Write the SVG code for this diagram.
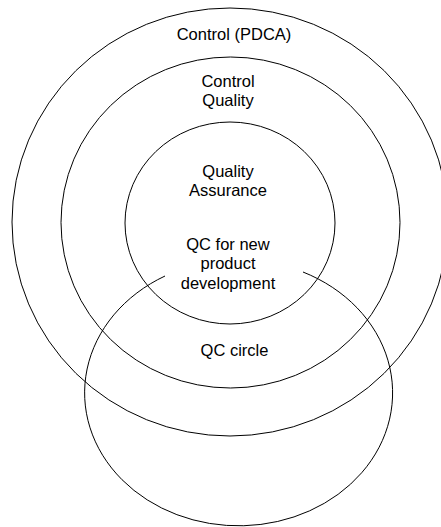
<svg xmlns="http://www.w3.org/2000/svg" width="441" height="527" viewBox="0 0 441 527">
  <style>
    .ring { fill: none; stroke: #000; stroke-width: 1; }
    .label { font-family: "Liberation Sans", Arial, sans-serif; font-size: 16.5px; fill: #000; text-anchor: middle; }
  </style>
  <rect width="441" height="527" fill="#fff"/>
  <g id="control-pdca">
    <ellipse class="ring" cx="230" cy="222" rx="218" ry="214"/>
    <text class="label" x="234" y="39.5">Control (PDCA)</text>
  </g>
  <g id="control-quality">
    <ellipse class="ring" cx="230.5" cy="222.5" rx="169.5" ry="165.5"/>
    <text class="label" x="228" y="87">Control</text>
    <text class="label" x="228" y="106">Quality</text>
  </g>
  <g id="quality-assurance">
    <ellipse class="ring" cx="230" cy="223" rx="105" ry="101"/>
    <text class="label" x="228" y="176.5">Quality</text>
    <text class="label" x="228" y="196">Assurance</text>
  </g>
  <g id="qc-new-product">
    <text class="label" x="228" y="249.5">QC for new</text>
    <text class="label" x="228" y="269">product</text>
    <text class="label" x="228" y="288.5">development</text>
  </g>
  <g id="qc-circle">
    <path class="ring" d="M165,276 A154,133 0 1 0 303,272"/>
    <text class="label" x="234.5" y="356">QC circle</text>
  </g>
  <g id="connectors"></g>
</svg>
